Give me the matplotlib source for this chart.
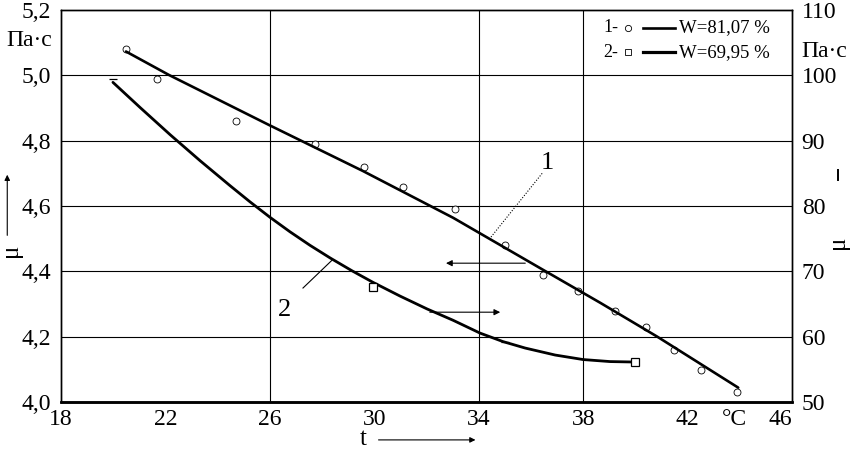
import matplotlib
matplotlib.use("Agg")
import matplotlib.pyplot as plt
from matplotlib.ticker import FixedLocator, FixedFormatter

plt.rcParams['font.family'] = ['Liberation Serif', 'DejaVu Serif']

# curve 1 - measured points (left axis, mu in Pa*s)
pts1_t = [20.49, 21.68, 24.70, 27.73, 29.61, 31.10, 33.10, 35.01, 36.47, 37.81,
          39.23, 40.41, 41.49, 42.52, 43.90]
pts1_mu = [5.080, 4.988, 4.859, 4.789, 4.719, 4.657, 4.590, 4.480, 4.388, 4.339,
           4.278, 4.229, 4.159, 4.098, 4.031]
# curve 1 - fitted line
fit1_t = [20.49, 22.14, 25.97, 29.57, 33.02, 36.35, 38.65, 40.84, 43.94]
fit1_mu = [5.073, 5.001, 4.848, 4.707, 4.564, 4.410, 4.304, 4.200, 4.044]

# curve 2 - measured points (right axis)
pts2_t = [19.99, 29.95, 35.01, 39.99]
pts2_w = [99.4, 67.6, 59.2, 56.1]
pts2_mk = ['_', 's', '_', 's']
# curve 2 - fitted line
fit2_t = [19.99, 21.03, 22.18, 23.33, 24.48, 25.24, 26.01, 26.77, 27.54, 28.31, 29.15,
          29.95, 30.99, 32.02, 33.02, 34.05, 34.93, 35.78, 36.93, 38.00, 39.03, 39.99]
fit2_w = [98.93, 95.08, 90.92, 86.93, 83.10, 80.64, 78.26, 76.06, 73.98, 72.05, 70.08,
          68.32, 66.21, 64.25, 62.51, 60.55, 59.25, 58.26, 57.19, 56.50, 56.19, 56.12]

x_ticks = [18, 22, 26, 30, 34, 38, 42, 43.8, 46]
x_labels = ['18', '22', '26', '30', '34', '38', '42', '°C', '46']
left_ticks = [4.0, 4.2, 4.4, 4.6, 4.8, 5.0, 5.2]
right_ticks = [50, 60, 70, 80, 90, 100, 110]
grid_t = [26, 34, 38]

fig = plt.figure(figsize=(8.54, 4.66), dpi=100)
ax = fig.add_axes([0.0714, 0.1373, 0.8560, 0.8412])
ax2 = ax.twinx()

ax.set_xlim(18, 46)
ax.set_ylim(4.0, 5.2)
ax2.set_ylim(50, 110)

# grid
for v in left_ticks[1:-1]:
    ax.axhline(v, color='k', lw=0.8, zorder=1)
for v in grid_t:
    ax.axvline(v, color='k', lw=0.8, zorder=1)

# curve 1
ax.plot(fit1_t, fit1_mu, color='k', lw=1.9, solid_capstyle='round',
        solid_joinstyle='round', zorder=3)
ax.plot(pts1_t, pts1_mu, ls='none', marker='o', ms=5, mfc='white', mec='k',
        mew=0.6, zorder=2)

# curve 2
ax2.plot(fit2_t, fit2_w, color='k', lw=2.0, solid_capstyle='round',
         solid_joinstyle='round', zorder=3)
for t, w, m in zip(pts2_t, pts2_w, pts2_mk):
    ax2.plot([t], [w], ls='none', marker=m, ms=6, mfc='white', mec='k', mew=0.9, zorder=4)

# annotations
ax.text(36.62, 4.731, '1', fontsize=19, ha='center', va='center')
ax.plot([36.43, 34.44], [4.700, 4.502], color='k', lw=0.8, ls=(0, (1, 1.5)))
ax.annotate('', xy=(32.64, 4.425), xytext=(35.89, 4.425),
            arrowprops=dict(arrowstyle='-|>', lw=0.8, color='k', mutation_scale=9))
ax.text(26.58, 4.281, '2', fontsize=19, ha='center', va='center')
ax.plot([27.27, 28.38], [4.349, 4.434], color='k', lw=0.8)
ax.annotate('', xy=(34.93, 4.275), xytext=(32.02, 4.275),
            arrowprops=dict(arrowstyle='-|>', lw=0.8, color='k', mutation_scale=9))

# legend drawn in the top-right cell
leg = [('1-', 'o', 1.9, 'W=81,07 %', 0.955), ('2-', 's', 2.3, 'W=69,95 %', 0.892)]
for num, mk, lw, lab, y in leg:
    ax.text(0.742, y, num, transform=ax.transAxes, fontsize=13, ha='left', va='center')
    ax.plot([0.775], [y], transform=ax.transAxes, marker=mk, ms=4.5, mfc='white',
            mec='k', mew=0.6, ls='none', clip_on=False)
    ax.plot([0.796, 0.840], [y, y], transform=ax.transAxes, color='k', lw=lw)
    ax.text(0.846, y, lab, transform=ax.transAxes, fontsize=13.5, ha='left', va='center')

# ticks
ax.xaxis.set_major_locator(FixedLocator(x_ticks))
ax.xaxis.set_major_formatter(FixedFormatter(x_labels))
ax.set_yticks(left_ticks)
ax.set_yticklabels([f'{v:.1f}'.replace('.', ',') for v in left_ticks])
ax2.set_yticks(right_ticks)
ax2.set_yticklabels([str(v) for v in right_ticks])
ax.tick_params(axis='x', length=0, pad=5, labelsize=17)
ax.tick_params(axis='y', length=0, pad=7, labelsize=17)
ax2.tick_params(axis='y', length=0, pad=7, labelsize=17)
ax.get_xticklabels()[-1].set_ha('right')

ax.text(-0.0123, 0.921, 'Па·с', transform=ax.transAxes, fontsize=17, ha='right', va='center')
ax2.text(1.0123, 0.895, 'Па·с', transform=ax2.transAxes, fontsize=17, ha='left', va='center')

for a in (ax, ax2):
    for s in ('left', 'right', 'top'):
        a.spines[s].set_linewidth(1.0)
    a.spines['bottom'].set_linewidth(1.8)

# axis names with arrows
fig.text(0.0125, 0.4635, 'μ', rotation=90, fontsize=18, ha='center', va='center')
fig.add_artist(matplotlib.patches.FancyArrowPatch((0.0085, 0.489), (0.0085, 0.631),
               transform=fig.transFigure, arrowstyle='-|>', mutation_scale=8, lw=0.8, color='k'))
fig.text(0.981, 0.479, 'μ', rotation=90, fontsize=18, ha='center', va='center')
fig.add_artist(matplotlib.lines.Line2D([0.981, 0.981], [0.614, 0.635],
               transform=fig.transFigure, lw=1.4, color='k'))
fig.text(0.425, 0.058, 't', fontsize=18, ha='center', va='center')
fig.add_artist(matplotlib.patches.FancyArrowPatch((0.44, 0.056), (0.56, 0.056),
               transform=fig.transFigure, arrowstyle='-|>', mutation_scale=8, lw=0.8, color='k'))

fig.savefig('out.png', dpi=100)
